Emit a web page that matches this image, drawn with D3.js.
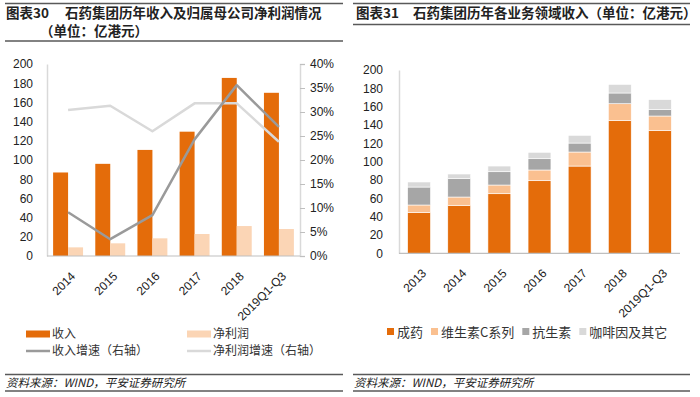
<!DOCTYPE html>
<html>
<head>
<meta charset="utf-8">
<script src="https://cdn.jsdelivr.net/npm/d3@7"></script>
<style>
  body { margin: 0; background: #fff; }
  svg { display: block; font-family: "Liberation Sans", Arial, sans-serif; }
  .cn { font-family: "Noto Sans CJK SC", sans-serif; }
</style>
</head>
<body>
<svg id="chart" width="700" height="397"></svg>
<script>
// ---- data: chart 30 ----
const years30 = ['2014', '2015', '2016', '2017', '2018', '2019Q1-Q3'];
const revenue = [87, 96, 110.5, 129.5, 185.5, 170];
const netProfit = [9, 13.2, 18.4, 22.9, 31.2, 28.1];
const revenueGrowth = [0.091, 0.035, 0.085, 0.243, 0.356, 0.269];
const profitGrowth = [0.304, 0.313, 0.26, 0.318, 0.318, 0.238];

// ---- data: chart 31 ----
const years31 = ['2013', '2014', '2015', '2016', '2017', '2018', '2019Q1-Q3'];
const segNames = ['成药', '维生素C系列', '抗生素', '咖啡因及其它'];
const finishedDrugs = [44.7, 52.4, 65, 79.2, 95.2, 144.7, 133.8];
const vitaminC = [8, 9, 9.5, 11.7, 15.3, 18.5, 16];
const antibiotics = [19.6, 20, 14.5, 12.3, 9.8, 11.7, 6.9];
const caffeine = [5.5, 5.1, 6.2, 7, 8.4, 9.4, 10.9];

const orange = '#e46c0a', peach = '#fbd5b5', peach2 = '#fac090';
const grayDark = '#9a9a9a', grayLight = '#d9d9d9', axisGray = '#bfbfbf';

const svg = d3.select('#chart');

// frame lines (title bars and source bars)
function frame(x1, x2, titleLineY) {
  [3.5, titleLineY, 374.5, 391].forEach(ly => {
    svg.append('line').attr('x1', x1).attr('x2', x2).attr('y1', ly).attr('y2', ly)
      .attr('stroke', '#595959').attr('stroke-width', 1.5);
  });
  svg.append('text').attr('class', 'cn').attr('x', x1 + 1).attr('y', 387)
    .attr('font-size', 11.5).attr('font-style', 'italic').attr('fill', '#222')
    .text('资料来源：WIND，平安证券研究所');
}
frame(5, 343, 41);
frame(353, 690, 24.5);

// titles
const t30 = svg.append('g').attr('class', 'cn').attr('font-size', 13.5).attr('font-weight', 'bold').attr('fill', '#222');
t30.append('text').attr('x', 6).attr('y', 18).text('图表30');
t30.append('text').attr('x', 65).attr('y', 18).text('石药集团历年收入及归属母公司净利润情况');
t30.append('text').attr('x', 40).attr('y', 36).text('（单位：亿港元）');
const t31 = svg.append('g').attr('class', 'cn').attr('font-size', 13.5).attr('font-weight', 'bold').attr('fill', '#222');
t31.append('text').attr('x', 356).attr('y', 18).text('图表31');
t31.append('text').attr('x', 413).attr('y', 18).text('石药集团历年各业务领域收入（单位：亿港元）');

// rotated category labels
function xLabels(g, x, baseY) {
  g.selectAll('text.xl')
    .data(x.domain())
    .enter().append('text')
    .attr('class', 'xl')
    .attr('text-anchor', 'end')
    .attr('font-size', 12)
    .attr('fill', '#222')
    .attr('transform', d => `translate(${x(d) + x.bandwidth() / 2 + 8}, ${baseY + 21}) rotate(-45)`)
    .text(d => d);
}

// ============ chart 30 ============
{
  const g = svg.append('g');
  const x = d3.scaleBand().domain(years30).range([47, 300]).paddingInner(0.29).paddingOuter(0.145);
  const xs = d3.scaleBand().domain(['rev', 'np']).range([0, x.bandwidth()]);
  const y = d3.scaleLinear().domain([0, 200]).range([256, 64]);
  const y2 = d3.scaleLinear().domain([0, 0.4]).range([256, 64]);

  // left axis
  const yAxis = g.append('g').attr('transform', 'translate(47,0)')
    .call(d3.axisLeft(y).ticks(10).tickSize(0).tickPadding(14));
  yAxis.select('.domain').attr('stroke', grayLight).attr('stroke-width', 1.5);
  yAxis.selectAll('text').attr('font-size', 12).attr('fill', '#222').attr('font-family', null);

  // right axis
  const y2Axis = g.append('g').attr('transform', 'translate(300,0)')
    .call(d3.axisRight(y2).ticks(8).tickFormat(d3.format('.0%')).tickSize(5).tickPadding(5));
  y2Axis.select('.domain').attr('stroke', grayLight).attr('stroke-width', 1.5);
  y2Axis.selectAll('line').attr('stroke', axisGray);
  y2Axis.selectAll('text').attr('font-size', 12).attr('fill', '#222').attr('font-family', null);

  // bars
  const rows = years30.map((yr, i) => ({ yr, rev: revenue[i], np: netProfit[i] }));
  const grp = g.selectAll('.yr').data(rows).enter().append('g')
    .attr('transform', d => `translate(${x(d.yr)},0)`);
  grp.append('rect').attr('x', xs('rev')).attr('width', xs.bandwidth())
    .attr('y', d => y(d.rev)).attr('height', d => y(0) - y(d.rev)).attr('fill', orange);
  grp.append('rect').attr('x', xs('np')).attr('width', xs.bandwidth())
    .attr('y', d => y(d.np)).attr('height', d => y(0) - y(d.np)).attr('fill', peach);

  // baseline
  g.append('line').attr('x1', 47).attr('x2', 300).attr('y1', 256).attr('y2', 256)
    .attr('stroke', axisGray).attr('stroke-width', 1.2);

  // growth lines (right axis)
  const line = d3.line().x((d, i) => x(years30[i]) + x.bandwidth() / 2).y(d => y2(d));
  g.append('path').attr('d', line(profitGrowth)).attr('fill', 'none')
    .attr('stroke', grayLight).attr('stroke-width', 2.5).attr('stroke-linejoin', 'round');
  g.append('path').attr('d', line(revenueGrowth)).attr('fill', 'none')
    .attr('stroke', grayDark).attr('stroke-width', 2.5).attr('stroke-linejoin', 'round');

  xLabels(g, x, 256);

  // legend, two rows
  const lg = svg.append('g').attr('class', 'cn').attr('font-size', 12).attr('fill', '#333');
  const items = [
    { name: '收入', type: 'rect', color: orange, x: 26, y: 334 },
    { name: '净利润', type: 'rect', color: peach, x: 187, y: 334 },
    { name: '收入增速（右轴）', type: 'line', color: grayDark, x: 26, y: 351 },
    { name: '净利润增速（右轴）', type: 'line', color: grayLight, x: 187, y: 351 }
  ];
  items.forEach(it => {
    if (it.type === 'rect') {
      lg.append('rect').attr('x', it.x).attr('y', it.y - 3.5).attr('width', 24).attr('height', 7).attr('fill', it.color);
    } else {
      lg.append('line').attr('x1', it.x).attr('x2', it.x + 24).attr('y1', it.y).attr('y2', it.y)
        .attr('stroke', it.color).attr('stroke-width', 2.5);
    }
    lg.append('text').attr('x', it.x + 26).attr('y', it.y + 4).text(it.name);
  });
}

// ============ chart 31 ============
{
  const g = svg.append('g');
  const x = d3.scaleBand().domain(years31).range([399, 680]).paddingInner(0.43).paddingOuter(0.215);
  const y = d3.scaleLinear().domain([0, 200]).range([253.3, 70]);
  const colors = [orange, peach2, '#a6a6a6', grayLight];

  const yAxis = g.append('g').attr('transform', 'translate(399,0)')
    .call(d3.axisLeft(y).ticks(10).tickSize(0).tickPadding(16));
  yAxis.select('.domain').attr('stroke', grayLight).attr('stroke-width', 1.5);
  yAxis.selectAll('text').attr('font-size', 12).attr('fill', '#222').attr('font-family', null);

  const table = years31.map((yr, i) => ({
    yr,
    [segNames[0]]: finishedDrugs[i],
    [segNames[1]]: vitaminC[i],
    [segNames[2]]: antibiotics[i],
    [segNames[3]]: caffeine[i]
  }));
  const stacked = d3.stack().keys(segNames)(table);

  g.selectAll('.layer').data(stacked).enter().append('g')
    .attr('fill', (d, i) => colors[i])
    .selectAll('rect').data(d => d).enter().append('rect')
    .attr('x', d => x(d.data.yr))
    .attr('width', x.bandwidth())
    .attr('y', d => y(d[1]))
    .attr('height', d => y(d[0]) - y(d[1]))
    .attr('stroke', '#fff').attr('stroke-width', 0.6);

  g.append('line').attr('x1', 399).attr('x2', 680).attr('y1', 253.3).attr('y2', 253.3)
    .attr('stroke', axisGray).attr('stroke-width', 1.2);

  xLabels(g, x, 253);

  // legend (one row)
  const lg = svg.append('g').attr('class', 'cn').attr('font-size', 13).attr('fill', '#333');
  let lx = 387;
  segNames.forEach((name, i) => {
    lg.append('rect').attr('x', lx).attr('y', 328).attr('width', 7).attr('height', 7).attr('fill', colors[i]);
    const t = lg.append('text').attr('x', lx + 10).attr('y', 336.5).text(name);
    lx += 10 + t.node().getComputedTextLength() + 8;
  });
}
</script>
</body>
</html>
